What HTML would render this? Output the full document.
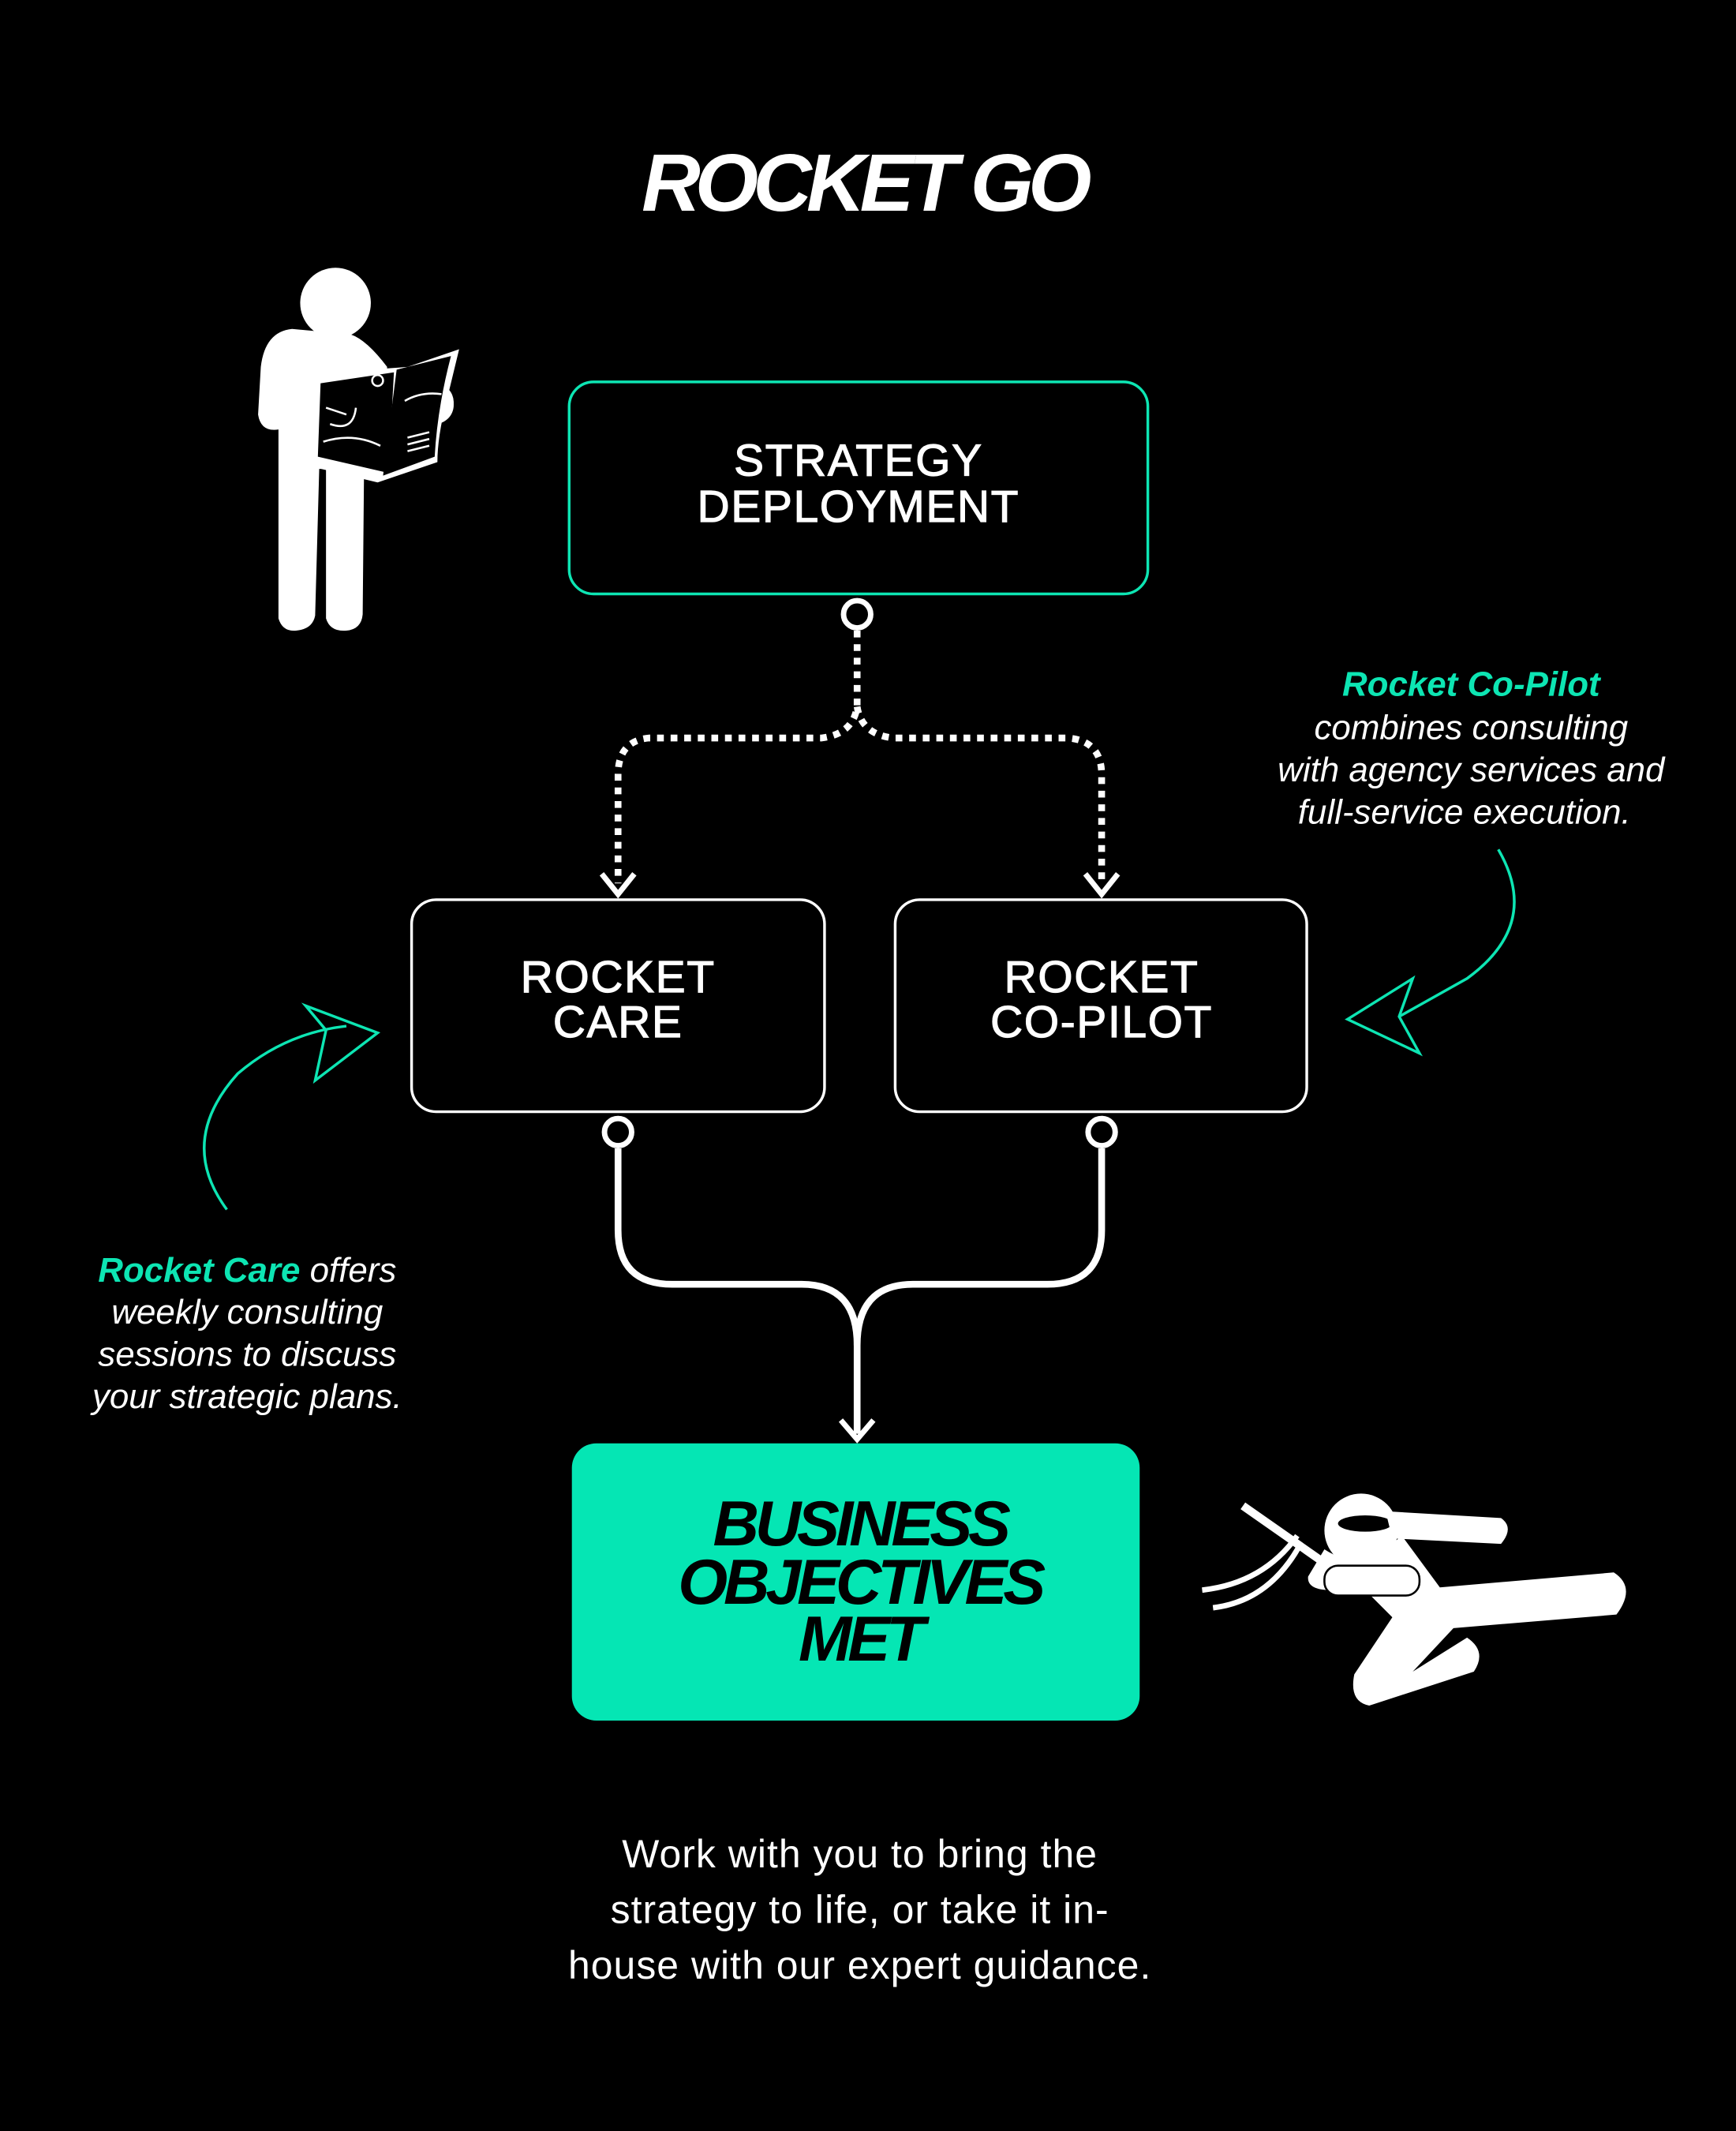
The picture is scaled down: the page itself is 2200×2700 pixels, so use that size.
<!DOCTYPE html>
<html><head><meta charset="utf-8"><style>
html,body{margin:0;padding:0;background:#000;}
svg{display:block;}
</style></head><body>
<svg width="2200" height="2700" viewBox="0 0 1278 1568" preserveAspectRatio="none" xmlns="http://www.w3.org/2000/svg" font-family="Liberation Sans, sans-serif">
<rect width="1278" height="1568" fill="#000"/>
<text x="636" y="155" text-anchor="middle" fill="#fff" font-size="60" font-weight="bold" font-style="italic" letter-spacing="-4">ROCKET GO</text>

<!-- Map man -->
<g fill="#fff">
<circle cx="247" cy="223" r="26"/>
<path d="M215 242 Q195 244 192 270 L190 305 Q192 318 205 316 L205 455 Q208 465 218 464 Q230 463 232 453 L235 345 L240 345 L240 455 Q243 465 255 464 Q266 463 267 452 L268 345 L280 340 L285 270 Q270 250 258 246 Z"/>
<rect x="300" y="282" width="34" height="30" rx="14"/>
<path d="M228 275 L300 270 L338 257 L330 290 Q322 320 322 340 L278 355 L228 343 Z" fill="#fff"/>
<path d="M236 282 L290 274 L286 348 L234 336 Z" fill="#000"/>
<path d="M292 272 L332 262 Q322 300 320 336 L282 350 Z" fill="#000"/>
<path d="M240 300 L255 305 M243 312 Q260 318 262 300 M238 325 Q260 318 280 328 M298 295 Q310 288 325 290 M300 322 L316 318 M300 327 L316 323 M300 332 L316 328" stroke="#fff" stroke-width="1.5" fill="none"/>
<circle cx="278" cy="280" r="4" stroke="#fff" stroke-width="1.5" fill="none"/>
</g>

<!-- Strategy box -->
<rect x="419" y="281" width="426" height="156" rx="18" fill="#000" stroke="#0de5b3" stroke-width="2"/>
<g fill="#fff" stroke="#fff" stroke-width="0.7" font-size="33" letter-spacing="1" text-anchor="middle">
<text x="632" y="350">STRATEGY</text>
<text x="632" y="384">DEPLOYMENT</text>
</g>

<!-- dotted connectors -->
<circle cx="631" cy="452" r="10" fill="#000" stroke="#fff" stroke-width="4"/>
<g stroke="#fff" stroke-width="5" fill="none" stroke-dasharray="5 5">
<path d="M631 464 L631 520 Q628 540 605 543 L478 543 Q455 545 455 570 L455 650"/>
<path d="M631 520 Q634 540 657 543 L786 543 Q811 545 811 570 L811 650"/>
</g>
<path d="M443 643 L455 658 L467 643 M799 643 L811 658 L823 643" stroke="#fff" stroke-width="4" fill="none"/>

<!-- Rocket Care / Co-Pilot boxes -->
<rect x="303" y="662" width="304" height="156" rx="18" fill="#000" stroke="#fff" stroke-width="2"/>
<rect x="659" y="662" width="303" height="156" rx="18" fill="#000" stroke="#fff" stroke-width="2"/>
<g fill="#fff" stroke="#fff" stroke-width="0.7" font-size="33" letter-spacing="1" text-anchor="middle">
<text x="455" y="730">ROCKET</text>
<text x="455" y="763">CARE</text>
<text x="811" y="730">ROCKET</text>
<text x="811" y="763">CO-PILOT</text>
</g>

<!-- solid connectors -->
<g stroke="#fff" stroke-width="5" fill="none">
<path d="M455 845 L455 905 Q455 945 495 945 L590 945 Q631 945 631 990 L631 1055"/>
<path d="M811 845 L811 905 Q811 945 771 945 L672 945 Q631 945 631 990"/>
<path d="M619 1045 L631 1059 L643 1045" stroke-width="4"/>
</g>
<circle cx="455" cy="833" r="10" fill="#000" stroke="#fff" stroke-width="4"/>
<circle cx="811" cy="833" r="10" fill="#000" stroke="#fff" stroke-width="4"/>

<!-- Business objectives -->
<rect x="421" y="1062" width="418" height="204" rx="18" fill="#05e6b4"/>
<g fill="#000" font-size="47" font-weight="bold" font-style="italic" text-anchor="middle" letter-spacing="-3">
<text x="633" y="1137">BUSINESS</text>
<text x="633" y="1180">OBJECTIVES</text>
<text x="633" y="1222">MET</text>
</g>

<!-- annotations -->
<g font-size="25.5" font-style="italic" fill="#fff" text-anchor="middle">
<text x="1083" y="512" fill="#0de5b3" font-weight="bold">Rocket Co-Pilot</text>
<text x="1083" y="544">combines consulting</text>
<text x="1083" y="575">with agency services and</text>
<text x="1078" y="606">full-service execution.</text>
<text x="182" y="943"><tspan fill="#0de5b3" font-weight="bold">Rocket Care</tspan> offers</text>
<text x="182" y="974">weekly consulting</text>
<text x="182" y="1005">sessions to discuss</text>
<text x="182" y="1036">your strategic plans.</text>
</g>
<g stroke="#0de5b3" stroke-width="2" fill="none">
<path d="M1103 625 Q1135 680 1080 720 L1030 748"/>
<path d="M992 750 L1040 720 L1030 748 L1045 775 Z"/>
<path d="M167 890 Q130 840 175 790 Q210 760 255 755"/>
<path d="M278 760 L225 740 L240 758 L232 795 Z"/>
</g>

<!-- ninja -->
<g fill="#fff">
<circle cx="1002" cy="1126" r="27"/>
<ellipse cx="1005" cy="1121" rx="20" ry="6" fill="#000"/>
<path d="M1020 1112 L1105 1117 Q1115 1124 1105 1136 L1025 1132 Z"/>
<path d="M1032 1130 L1060 1168 L1188 1157 Q1205 1168 1190 1188 L1070 1198 L1040 1230 L1080 1205 Q1095 1215 1085 1230 L1008 1255 Q993 1252 997 1232 L1025 1190 L1005 1170 L980 1170 Q962 1170 963 1160 L975 1140 Q990 1150 1010 1148 Z"/>
<rect x="975" y="1152" width="70" height="22" rx="10" fill="#fff" stroke="#000" stroke-width="1.5"/>
<path d="M915 1108 L975 1150" stroke="#fff" stroke-width="6"/>
<path d="M885 1170 Q930 1165 955 1130 M893 1183 Q935 1178 958 1135" stroke="#fff" stroke-width="4" fill="none"/>
</g>

<!-- bottom text -->
<g font-size="29" fill="#fff" text-anchor="middle" letter-spacing="0.6">
<text x="633" y="1374">Work with you to bring the</text>
<text x="633" y="1415">strategy to life, or take it in-</text>
<text x="633" y="1456">house with our expert guidance.</text>
</g>
</svg>
</body></html>
